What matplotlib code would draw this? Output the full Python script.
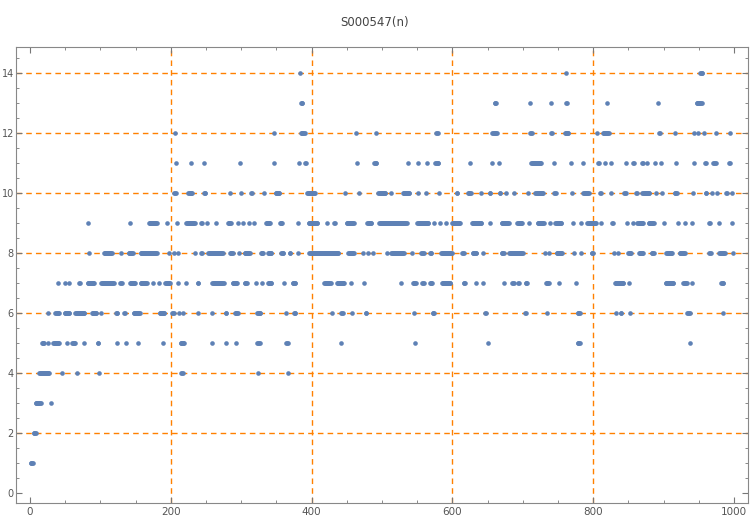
import numpy as np
import matplotlib
matplotlib.use("Agg")
import matplotlib.pyplot as plt
from matplotlib.ticker import MultipleLocator

# runs of n (start, end) for each value of S000547(n)
level_1 = [(1, 4)]
level_2 = [(5, 8)]
level_3 = [(8, 15), (30, 30)]
level_4 = [(13, 27), (45, 45), (66, 66), (98, 98), (215, 217), (324, 324), (366, 366)]
level_5 = [(17, 20), (26, 26), (33, 41), (52, 52), (60, 64), (76, 76), (96, 97), (124, 124),
           (136, 136), (153, 153), (189, 189), (214, 219), (259, 259), (278, 278), (293, 293),
           (323, 326), (364, 366), (442, 442), (547, 547), (650, 650), (778, 781), (937, 937)]
level_6 = [(25, 25), (36, 41), (49, 56), (64, 77), (88, 94), (101, 101), (122, 124), (134, 135),
           (147, 156), (184, 191), (202, 204), (212, 212), (218, 218), (238, 238), (259, 259),
           (278, 279), (291, 295), (323, 327), (363, 363), (375, 377), (429, 429), (442, 444),
           (457, 457), (477, 478), (545, 545), (572, 574), (647, 648), (703, 704), (734, 734),
           (778, 781), (833, 833), (839, 840), (852, 852), (934, 937), (985, 985)]
level_7 = [(40, 40), (49, 49), (55, 55), (70, 71), (82, 91), (101, 119), (128, 130), (142, 149),
           (157, 166), (175, 175), (183, 183), (192, 199), (210, 210), (222, 222), (238, 239),
           (259, 275), (288, 294), (305, 308), (321, 321), (330, 330), (338, 343), (361, 361),
           (373, 377), (418, 427), (436, 446), (456, 456), (475, 475), (527, 527), (544, 548),
           (557, 559), (568, 571), (585, 597), (616, 618), (634, 634), (644, 644), (674, 674),
           (685, 687), (693, 694), (704, 706), (733, 737), (751, 751), (775, 775), (831, 843),
           (851, 851), (903, 914), (928, 933), (940, 940), (982, 985)]
level_8 = [(84, 84), (105, 116), (129, 129), (140, 146), (157, 180), (197, 197), (205, 205),
           (210, 210), (235, 235), (243, 244), (253, 274), (284, 288), (297, 297), (305, 312),
           (328, 331), (338, 343), (357, 360), (369, 370), (380, 380), (397, 438), (452, 460),
           (473, 473), (480, 480), (487, 487), (507, 507), (513, 531), (542, 542), (556, 559),
           (568, 570), (584, 599), (614, 616), (629, 634), (643, 643), (670, 673), (681, 700),
           (731, 731), (737, 737), (748, 756), (773, 773), (783, 783), (798, 800), (829, 829),
           (835, 835), (850, 854), (865, 871), (883, 886), (904, 912), (923, 930), (965, 967),
           (979, 987), (999, 999)]
level_9 = [(83, 83), (142, 142), (169, 180), (194, 194), (209, 209), (222, 234), (243, 244),
           (252, 252), (264, 264), (281, 285), (296, 296), (302, 302), (311, 311), (318, 318),
           (335, 341), (355, 358), (381, 381), (396, 408), (422, 422), (432, 433), (450, 460),
           (479, 485), (496, 535), (550, 566), (574, 574), (583, 583), (591, 591), (600, 611),
           (628, 641), (653, 653), (670, 680), (692, 699), (709, 709), (721, 730), (739, 739),
           (746, 755), (772, 772), (783, 783), (792, 804), (811, 811), (827, 828), (848, 848),
           (857, 857), (863, 871), (879, 886), (901, 901), (921, 921), (930, 930), (941, 941),
           (965, 966), (979, 979), (998, 998)]
level_10 = [(205, 207), (225, 230), (247, 249), (284, 284), (300, 300), (314, 315), (332, 332),
            (349, 354), (394, 405), (448, 448), (468, 468), (495, 505), (513, 513), (530, 539),
            (551, 551), (562, 562), (581, 581), (606, 607), (622, 626), (640, 640), (653, 654),
            (667, 668), (676, 676), (688, 688), (707, 707), (718, 729), (745, 747), (770, 770),
            (786, 794), (810, 811), (826, 826), (844, 846), (861, 862), (870, 880), (890, 890),
            (898, 898), (916, 919), (942, 942), (960, 961), (969, 969), (976, 976), (989, 990),
            (997, 997)]
level_11 = [(208, 208), (229, 229), (247, 247), (298, 298), (347, 347), (382, 382), (391, 392),
            (465, 465), (489, 492), (537, 537), (551, 551), (564, 564), (576, 580), (625, 625),
            (656, 656), (666, 666), (712, 726), (744, 744), (768, 768), (786, 786), (807, 808),
            (817, 817), (825, 825), (846, 846), (857, 858), (870, 871), (877, 877), (888, 888),
            (896, 896), (918, 918), (944, 944), (959, 960), (971, 974), (993, 994)]
level_12 = [(206, 206), (346, 346), (385, 390), (463, 463), (492, 492), (577, 579), (657, 663),
            (711, 713), (740, 741), (760, 765), (805, 805), (814, 822), (894, 895), (917, 917),
            (944, 944), (949, 949), (957, 957), (974, 974), (995, 995)]
level_13 = [(385, 387), (660, 662), (710, 710), (740, 740), (762, 763), (819, 819), (892, 892),
            (947, 954)]
level_14 = [(383, 383), (762, 762), (952, 955)]

levels = [level_1, level_2, level_3, level_4, level_5, level_6, level_7,
          level_8, level_9, level_10, level_11, level_12, level_13, level_14]

xs = []
ys = []
for value, runs in enumerate(levels, start=1):
    for a, b in runs:
        n = np.arange(a, b + 1)
        xs.append(n)
        ys.append(np.full(len(n), value))
xs = np.concatenate(xs)
ys = np.concatenate(ys)

fig = plt.figure(figsize=(7.5, 5.2), dpi=100)
ax = fig.add_axes([0.0213, 0.0327, 0.976, 0.8769])

orange = "#FF8000"
for gx in [200, 400, 600, 800]:
    ax.axvline(gx, color=orange, lw=1.0, ls=(0, (4, 3)), zorder=1)
for gy in [2, 4, 6, 8, 10, 12, 14]:
    ax.axhline(gy, color=orange, lw=1.0, ls=(0, (4, 3)), zorder=1)

ax.scatter(xs, ys, s=11, color="#5E81B5", linewidths=0, zorder=3)

ax.set_xlim(-20, 1020)
ax.set_ylim(-0.33, 14.87)
ax.xaxis.set_major_locator(MultipleLocator(200))
ax.xaxis.set_minor_locator(MultipleLocator(50))
ax.yaxis.set_major_locator(MultipleLocator(2))
ax.yaxis.set_minor_locator(MultipleLocator(0.5))
ax.tick_params(which="both", direction="in", top=True, right=True, labeltop=False,
               labelright=False, color="#777777", labelcolor="#555555")
ax.tick_params(axis="x", labelsize=7.5, pad=3)
ax.tick_params(axis="y", labelsize=7, pad=1.5)
ax.tick_params(which="major", length=4, width=0.8)
ax.tick_params(which="minor", length=2, width=0.6)
for s in ax.spines.values():
    s.set_color("#888888")
    s.set_linewidth(0.8)

fig.suptitle("S000547(n)", y=0.97, fontsize=8.5, color="#444444")
fig.savefig("out.png", dpi=100)
